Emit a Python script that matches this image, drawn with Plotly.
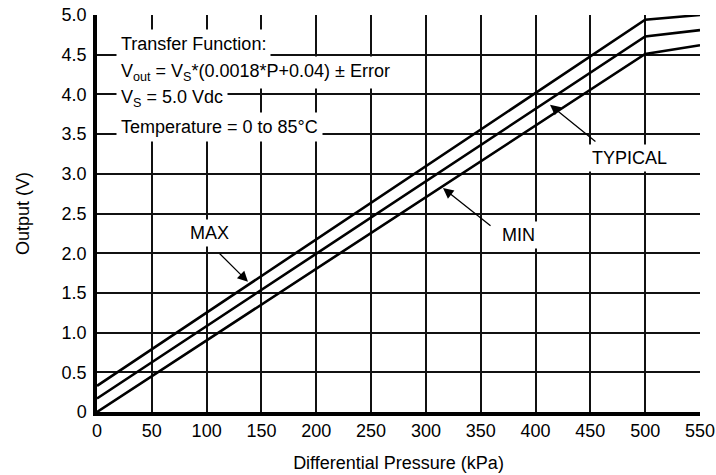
import plotly.graph_objects as go

# Data
pressure = [0, 500, 550]
v_max = [0.33, 4.94, 5.0]
v_typ = [0.17, 4.73, 4.81]
v_min = [0.0, 4.51, 4.62]

x_ticks = [0, 50, 100, 150, 200, 250, 300, 350, 400, 450, 500, 550]
y_ticks = [0, 0.5, 1.0, 1.5, 2.0, 2.5, 3.0, 3.5, 4.0, 4.5, 5.0]
y_ticktext = ["0", "0.5", "1.0", "1.5", "2.0", "2.5", "3.0", "3.5", "4.0", "4.5", "5.0"]

FONT = "Liberation Sans, Arial, sans-serif"
FS = 18

fig = go.Figure()
for name, ys in [("MAX", v_max), ("TYPICAL", v_typ), ("MIN", v_min)]:
    fig.add_trace(go.Scatter(x=pressure, y=ys, mode="lines", name=name,
                             line=dict(color="black", width=2.6),
                             showlegend=False, hoverinfo="skip"))

annotations = []
# Transfer function text block
text_lines = [
    "Transfer Function:",
    "V<sub>out</sub> = V<sub>S</sub>*(0.0018*P+0.04) ± Error",
    "V<sub>S</sub> = 5.0 Vdc",
    "Temperature = 0 to 85°C",
]
line_y_px = [44, 72, 99, 127]
for t, py in zip(text_lines, line_y_px):
    annotations.append(dict(
        text=t, xref="paper", yref="paper",
        x=(116 - 97) / 603, y=(412 - py) / 397,
        xanchor="left", yanchor="middle", showarrow=False,
        font=dict(family=FONT, size=FS, color="black"),
        bgcolor="white", borderpad=4, align="left"))

# Labels with arrows
labels = [
    ("MAX", 103, 2.25, 137.7, 1.64, 110.4, 2.015),
    ("MIN", 384, 2.23, 315.6, 2.82, 360.3, 2.33),
    ("TYPICAL", 486, 3.2, 413.2, 3.87, 456.0, 3.39),
]
for lab, lx, ly, hx, hy, tx, ty in labels:
    annotations.append(dict(
        text=lab, x=lx, y=ly, xref="x", yref="y", showarrow=False,
        font=dict(family=FONT, size=FS, color="black"),
        bgcolor="white", borderpad=3))
    annotations.append(dict(
        text="", x=hx, y=hy, xref="x", yref="y", ax=tx, ay=ty,
        axref="x", ayref="y", showarrow=True, arrowhead=2,
        arrowsize=1.6, arrowwidth=1.3, arrowcolor="black", standoff=0))

fig.update_layout(
    width=716, height=475,
    margin=dict(l=97, r=16, t=15, b=63),
    paper_bgcolor="white", plot_bgcolor="white",
    font=dict(family=FONT, size=FS, color="black"),
    annotations=annotations,
    xaxis=dict(range=[0, 550], tickvals=x_ticks, showgrid=True,
               gridcolor="#111", gridwidth=1.5, zeroline=False,
               showline=True, linecolor="black", linewidth=3.5,
               ticks="", ticklabelstandoff=0, automargin=False,
               ticklabeloverflow="allow",
               title=dict(text="Differential Pressure (kPa)", standoff=17,
                          font=dict(size=FS))),
    yaxis=dict(range=[0, 5.0], tickvals=y_ticks, ticktext=y_ticktext,
               showgrid=True, gridcolor="#111", gridwidth=1.5, zeroline=False,
               showline=True, linecolor="black", linewidth=3.5,
               ticks="", ticklabelstandoff=3, automargin=False,
               ticklabeloverflow="allow",
               title=dict(text="Output (V)", standoff=28,
                          font=dict(size=FS))),
)

fig.write_html("out.html",
               config={"displayModeBar": False},
               post_script="document.body.style.margin='0';"
                           "document.body.style.overflow='hidden';")
